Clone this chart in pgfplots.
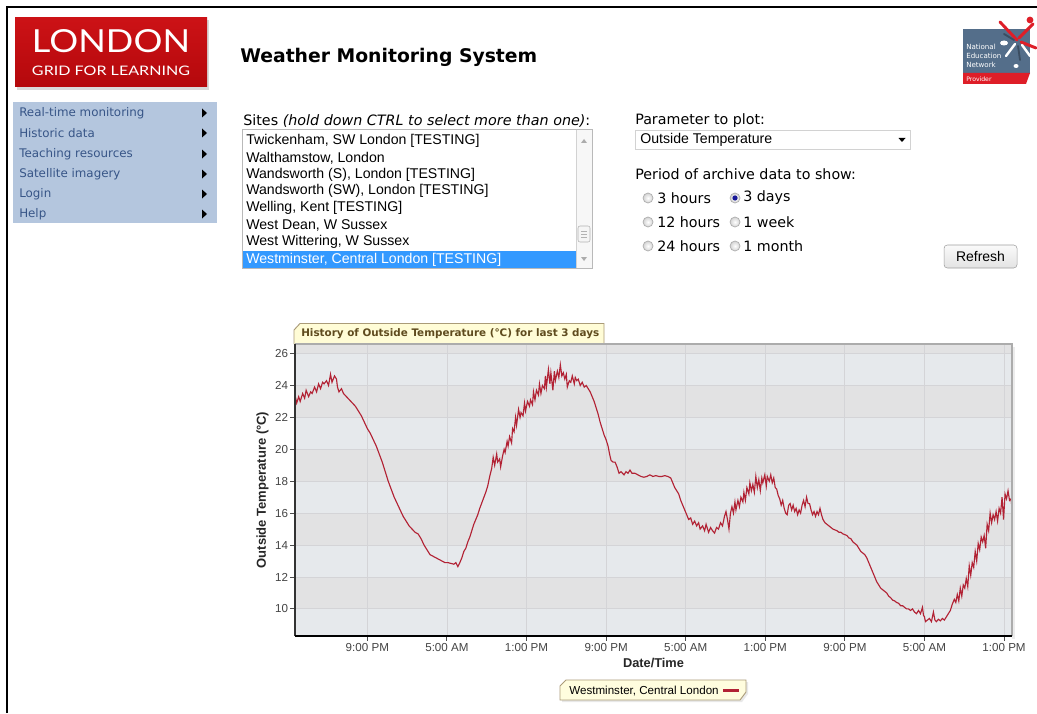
\documentclass[border=0pt]{standalone}
\usepackage{fontspec}
\setmainfont{Liberation Sans}
\newfontfamily\verd{DejaVu Sans}
\newfontfamily\lato{Lato}
\usepackage{graphicx}
\usepackage{pgfplots}
\usepackage{pgfplotstable}
\pgfplotsset{compat=1.18}
\newlength{\pxu}\setlength{\pxu}{0.75pt}
\newcommand{\fw}[2]{\resizebox{#1\pxu}{!}{#2}}
\newcommand{\fs}[1]{\fontsize{#1}{#1}\selectfont}
\definecolor{lgflred}{RGB}{204,18,22}
\definecolor{lgflred2}{RGB}{180,8,12}
\definecolor{menubg}{RGB}{180,198,222}
\definecolor{menutext}{RGB}{55,85,135}
\definecolor{selblue}{RGB}{51,153,255}
\definecolor{linered}{RGB}{178,34,52}
\definecolor{bandA}{RGB}{230,233,236}
\definecolor{bandB}{RGB}{226,226,227}
\definecolor{gridc}{RGB}{212,212,215}
\definecolor{tabfill}{RGB}{255,252,214}
\definecolor{tabdraw}{RGB}{170,155,120}
\definecolor{tabtext}{RGB}{95,75,30}
\definecolor{nenblue}{RGB}{84,110,138}
\definecolor{nenred}{RGB}{222,30,40}
\definecolor{ticktext}{RGB}{68,68,68}

\pgfplotstableread{
h t
13.73 23.4
13.9 22.9
14.1 23.3
14.25 23.0
14.5 23.5
14.7 23.2
14.85 23.7
15.1 23.3
15.3 23.6
15.45 23.5
15.7 23.9
15.9 23.6
16.1 24.1
16.3 23.8
16.5 24.2
16.65 24.1
16.9 24.3
17.1 24.0
17.3 24.7
17.45 24.2
17.7 24.6
17.9 24.4
18.0 23.9
18.15 23.6
18.4 23.8
18.6 23.5
18.9 23.3
19.2 23.1
19.5 22.9
19.8 22.7
20.1 22.4
20.4 22.1
20.7 21.7
21.0 21.3
21.3 21.0
21.6 20.6
21.9 20.2
22.2 19.7
22.5 19.2
22.8 18.6
23.1 18.0
23.4 17.5
23.7 17.0
24.0 16.6
24.3 16.2
24.6 15.8
24.9 15.5
25.2 15.2
25.5 15.0
25.8 14.8
26.1 14.7
26.4 14.4
26.7 14.0
27.0 13.7
27.3 13.4
27.6 13.3
27.9 13.2
28.2 13.1
28.5 13.0
28.8 12.9
29.1 12.9
29.4 12.85
29.7 12.8
29.9 12.9
30.1 12.65
30.3 12.9
30.5 13.2
30.7 13.6
30.9 13.8
31.1 14.2
31.3 14.5
31.5 14.9
31.7 15.3
31.9 15.6
32.1 15.9
32.3 16.3
32.6 16.8
32.9 17.3
33.1 17.7
33.3 18.3
33.5 18.8
33.65 19.5
33.8 19.0
34.0 19.7
34.1 19.2
34.3 19.4
34.4 18.9
34.6 19.6
34.75 20.0
34.85 19.8
35.05 20.5
35.15 20.2
35.3 20.8
35.5 20.4
35.6 21.3
35.75 21.1
35.9 22.0
36.0 21.5
36.2 22.5
36.35 22.0
36.45 22.3
36.65 22.1
36.8 22.9
36.9 22.4
37.1 23.0
37.3 22.7
37.4 23.1
37.6 22.8
37.7 23.6
37.85 23.1
38.0 23.7
38.2 23.4
38.3 24.1
38.45 23.5
38.6 24.0
38.8 23.8
38.9 24.6
39.0 23.9
39.2 25.0
39.35 24.1
39.45 24.8
39.65 23.7
39.8 24.9
39.9 24.3
40.1 24.9
40.25 24.5
40.4 25.3
40.55 24.6
40.7 24.8
40.85 24.4
41.0 24.7
41.1 23.9
41.3 24.3
41.45 24.2
41.6 24.6
41.8 24.1
41.9 24.5
42.05 24.3
42.2 24.4
42.4 24.0
42.6 24.2
42.8 23.9
43.0 24.0
43.2 23.8
43.4 23.6
43.6 23.3
43.8 23.0
44.0 22.6
44.2 22.2
44.4 21.7
44.6 21.3
44.8 20.9
45.0 20.6
45.2 20.2
45.35 19.7
45.5 19.3
45.7 19.2
45.9 19.2
46.1 18.9
46.3 18.5
46.5 18.6
46.8 18.4
47.0 18.6
47.2 18.5
47.4 18.7
47.6 18.5
47.9 18.5
48.2 18.4
48.5 18.3
48.8 18.25
49.1 18.3
49.4 18.4
49.7 18.3
50.0 18.35
50.3 18.3
50.6 18.3
50.9 18.35
51.2 18.3
51.5 18.2
51.7 17.9
51.9 17.6
52.1 17.4
52.3 17.2
52.5 16.8
52.7 16.5
52.9 16.2
53.1 15.9
53.3 15.6
53.5 15.7
53.7 15.3
53.9 15.5
54.1 15.2
54.3 15.4
54.45 15.0
54.7 15.2
54.9 14.9
55.05 15.3
55.3 14.8
55.5 15.1
55.7 14.9
55.9 14.75
56.1 15.1
56.3 15.0
56.5 15.4
56.7 15.2
56.9 15.8
57.05 16.1
57.2 15.6
57.35 15.0
57.5 16.0
57.65 16.4
57.8 16.0
57.95 16.7
58.05 16.2
58.25 16.8
58.4 16.4
58.55 17.0
58.75 16.7
58.85 17.3
59.0 16.8
59.15 17.6
59.35 17.2
59.45 17.9
59.6 17.4
59.75 17.8
59.9 17.3
60.05 18.3
60.2 17.6
60.35 18.1
60.5 17.4
60.65 18.2
60.75 17.9
60.95 18.4
61.1 17.7
61.2 18.3
61.4 18.0
61.55 18.4
61.7 17.9
61.85 18.2
62.0 17.6
62.15 17.5
62.3 17.1
62.45 16.9
62.6 16.5
62.75 16.8
62.9 16.3
63.05 16.0
63.2 15.9
63.35 16.5
63.5 16.6
63.65 16.2
63.8 16.5
63.95 16.1
64.1 16.3
64.25 15.9
64.4 16.2
64.55 16.0
64.7 16.5
64.85 16.8
65.0 16.4
65.15 17.0
65.3 16.6
65.45 16.6
65.6 16.2
65.75 15.9
65.9 16.1
66.05 15.8
66.2 16.1
66.35 15.9
66.5 16.3
66.65 15.9
66.8 15.6
67.0 15.4
67.2 15.3
67.4 15.2
67.6 15.1
67.8 15.0
68.0 14.95
68.2 14.9
68.4 14.8
68.6 14.8
68.8 14.7
69.0 14.65
69.2 14.6
69.4 14.45
69.6 14.4
69.8 14.2
70.0 14.1
70.2 14.0
70.4 13.8
70.6 13.6
70.8 13.5
71.0 13.4
71.2 13.2
71.4 12.9
71.6 12.6
71.8 12.3
72.0 12.0
72.2 11.7
72.4 11.5
72.6 11.3
72.8 11.2
73.0 11.1
73.2 11.0
73.4 10.8
73.6 10.7
73.8 10.55
74.0 10.5
74.2 10.4
74.4 10.35
74.6 10.2
74.8 10.2
75.0 10.1
75.2 10.0
75.4 10.0
75.6 9.9
75.8 10.0
76.0 9.8
76.2 9.7
76.4 9.9
76.6 9.7
76.8 10.1
76.9 9.6
77.0 9.5
77.1 9.2
77.3 9.3
77.5 9.4
77.7 9.2
77.9 9.8
78.05 9.3
78.2 9.2
78.4 9.35
78.6 9.25
78.8 9.4
79.0 9.3
79.2 9.5
79.4 9.7
79.6 9.9
79.8 10.3
80.0 10.6
80.15 10.4
80.3 10.9
80.45 10.5
80.6 11.3
80.75 10.8
80.9 11.5
81.05 11.3
81.2 11.9
81.35 11.4
81.5 12.7
81.65 12.1
81.8 12.9
81.95 12.6
82.1 13.6
82.25 13.0
82.4 14.1
82.55 13.7
82.7 14.5
82.85 14.2
83.0 14.6
83.15 13.8
83.3 15.3
83.45 14.9
83.6 16.0
83.75 15.4
83.9 15.9
84.05 15.6
84.2 16.1
84.35 15.5
84.5 16.3
84.65 16.0
84.8 17.0
84.95 15.6
85.1 17.2
85.25 16.9
85.4 17.4
85.55 16.8
85.7 16.9
85.8 16.3
}\tempdata

\begin{document}
\begin{tikzpicture}
\begin{scope}[x=0.75pt,y=-0.75pt]
\fill[white] (0,0) rectangle (1037,713);
\path[use as bounding box] (0,0) rectangle (1037,713);
% frame
\draw[black, line width=1.5pt] (7,713) -- (7,7) -- (1037,7);
% LGfL logo
\fill[gray!30] (17,20) rectangle (209,90);
\shade[top color=lgflred, bottom color=lgflred2] (15,18) rectangle (207,87);
\node[white, inner sep=0, anchor=south] at (111,53) {\resizebox{158\pxu}{23\pxu}{\lato LONDON}};
\node[white, inner sep=0, anchor=south] at (111,76) {\resizebox{158\pxu}{9.5\pxu}{\lato GRID FOR LEARNING}};
% title
\node[inner sep=0, anchor=west] at (240,57) {\fw{297}{\verd\bfseries Weather Monitoring System}};
% menu
\fill[menubg] (13,102) rectangle (217,223);
\foreach \yy/\tt in {113/Real-time monitoring,133/Historic data,154/Teaching resources,174/Satellite imagery,194/Login,214/Help}{
  \node[inner sep=0, anchor=west, text=menutext] at (19,\yy) {\fs{8.9}\verd \tt};
  \fill[black] (202,\yy-4.5) -- (207,\yy) -- (202,\yy+4.5) -- cycle;
}
% sites list
\node[inner sep=0, anchor=west] at (243,121) {\fw{347}{\verd Sites \textit{(hold down CTRL to select more than one)}:}};
\draw[gray!55, fill=white] (242,129) rectangle (592,268);
\fill[selblue] (243,251) rectangle (576,268);
\foreach \yy/\tt in {141/{Twickenham, SW London [TESTING]},158/{Walthamstow, London},175/{Wandsworth (S), London [TESTING]},191/{Wandsworth (SW), London [TESTING]},208/{Welling, Kent [TESTING]},225/{West Dean, W Sussex},242/{West Wittering, W Sussex}}{
  \node[inner sep=0, anchor=west] at (246,\yy) {\fs{10.6}\tt};
}
\node[inner sep=0, anchor=west, text=white] at (246,259.5) {\fs{10.6}Westminster, Central London [TESTING]};
\fill[gray!6] (576.5,130) rectangle (591.5,267.5);
\draw[gray!35] (576.5,130) -- (576.5,267.5);
\fill[gray!65] (581,143) -- (587,143) -- (584,139) -- cycle;
\fill[gray!65] (581,257) -- (587,257) -- (584,261) -- cycle;
\draw[gray!60, fill=gray!8, rounded corners=1.5] (578,226) rectangle (590,242);
\draw[gray!60] (581,231) -- (587,231) (581,234) -- (587,234) (581,237) -- (587,237);
% parameter
\node[inner sep=0, anchor=west] at (635,121) {\fs{10.7}\verd Parameter to plot:};
\draw[gray!35, fill=white] (635,130) rectangle (910,149);
\node[inner sep=0, anchor=west] at (640,140) {\fs{10.6}Outside Temperature};
\fill[black] (898.5,138) -- (905.5,138) -- (902,142) -- cycle;
\node[inner sep=0, anchor=west] at (635,174) {\fs{10.7}\verd Period of archive data to show:};
\foreach \yy/\ta/\tb in {198/3 hours/3 days,222/12 hours/1 week,246/24 hours/1 month}{
  \shade[inner color=white, outer color=gray!35] (648,\yy) circle (5);
  \draw[gray!65, line width=0.5pt] (648,\yy) circle (5);
  \shade[inner color=white, outer color=gray!35] (735,\yy) circle (5);
  \draw[gray!65, line width=0.5pt] (735,\yy) circle (5);
  \node[inner sep=0, anchor=west] at (657,\yy) {\fs{10.7}\verd \ta};
  \node[inner sep=0, anchor=west] at (743,\yy) {\fs{10.7}\verd \tb};
}
\fill[blue!55!black!90] (735,198) circle (2.6);
% refresh
\shade[top color=gray!4, bottom color=gray!22, draw=gray!75, rounded corners=2.5] (944,245) rectangle (1017,268);
\node[inner sep=0] at (980.5,256.5) {\fs{10.5}Refresh};
% NEN logo
\fill[nenblue] (963,29) -- (1030,29) -- (1030,74) -- (963,74) -- cycle;
\fill[nenred] (963,73) -- (1030,73) -- (1026,84) -- (963,84) -- cycle;
\node[white, inner sep=0, anchor=west] at (966,47) {\fs{5.3}\verd National};
\node[white, inner sep=0, anchor=west] at (966,56) {\fs{5.3}\verd Education};
\node[white, inner sep=0, anchor=west] at (966,65) {\fs{5.3}\verd Network};
\node[white, inner sep=0, anchor=west] at (966,79) {\fs{4.6}\verd Provider};
\draw[nenred, line width=2.2pt, line cap=round] (1017,40) -- (1000,22) (1019,38) -- (1033,24) (1021,42) -- (1036,48);
\draw[white, line width=1.8pt, line cap=round] (1015,44) -- (1006,56) (1022,45) -- (1030,56);
\draw[nenblue!70!black, line width=1.4pt, line cap=round] (1018,46) -- (1020,60) (1014,40) -- (1004,34);
\fill[nenred] (1030,20) circle (3.4);
\fill[white] (1004,43) ellipse (4 and 2.5);
\fill[white] (1016,66) ellipse (2.5 and 2);
% chart title tab
\filldraw[fill=tabfill, draw=tabdraw, line width=0.7pt] (294,344) -- (294,330) -- (300,323.5) -- (604,323.5) -- (604,344);
\node[inner sep=0, anchor=west, text=tabtext] at (301,334) {\fw{298}{\verd\bfseries History of Outside Temperature (°C) for last 3 days}};
% legend shape
\fill[gray!18] (568,682) -- (748,682) -- (748,694) -- (742,702) -- (562,702) -- (562,688) -- cycle;
\filldraw[fill=tabfill!80!white, draw=tabdraw, line width=0.7pt] (566,680) -- (746,680) -- (746,692) -- (740,700) -- (560,700) -- (560,686) -- cycle;
% plot shadow
\fill[gray!15] (1012,347) rectangle (1015,639);
\end{scope}

\begin{axis}[
  at={(221.25pt,-258pt)}, anchor=north west,
  scale only axis, width=537.75pt, height=219pt,
  xmin=13.73, xmax=85.8, ymin=8.3, ymax=26.6,
  xtick={21,29,37,45,53,61,69,77,85},
  xticklabels={9:00 PM,5:00 AM,1:00 PM,9:00 PM,5:00 AM,1:00 PM,9:00 PM,5:00 AM,1:00 PM},
  ytick={10,12,14,16,18,20,22,24,26},
  tick pos=left, tick align=outside, major tick length=3.5pt,
  tick style={black!70, line width=0.7pt},
  /pgf/number format/assume math mode=true,
  ticklabel style={font=\fs{8.7}, text=ticktext},
  yticklabel style={inner sep=1.5pt},
  xticklabel style={inner sep=2pt},
  axis line style={draw=none},
  clip mode=individual,
  xlabel={Date/Time},
  ylabel={Outside Temperature (°C)},
  xlabel style={font=\fs{9.6}\bfseries, text=black!85, at={(axis description cs:0.5,-0.0907)}, anchor=center},
  ylabel style={font=\fs{9.75}\bfseries, text=black!85, at={(axis description cs:-0.0453,0.5)}, anchor=center},
  legend style={at={(axis description cs:0.5,-0.188)}, anchor=center, draw=none, fill=none, font=\fs{8.7}, inner sep=1pt},
  legend plot pos=right,
  legend cell align=left,
]
\fill[bandB] (axis cs:13.73,26) rectangle (axis cs:85.8,26.6);
\fill[bandA] (axis cs:13.73,24) rectangle (axis cs:85.8,26);
\fill[bandB] (axis cs:13.73,22) rectangle (axis cs:85.8,24);
\fill[bandA] (axis cs:13.73,20) rectangle (axis cs:85.8,22);
\fill[bandB] (axis cs:13.73,18) rectangle (axis cs:85.8,20);
\fill[bandA] (axis cs:13.73,16) rectangle (axis cs:85.8,18);
\fill[bandB] (axis cs:13.73,14) rectangle (axis cs:85.8,16);
\fill[bandA] (axis cs:13.73,12) rectangle (axis cs:85.8,14);
\fill[bandB] (axis cs:13.73,10) rectangle (axis cs:85.8,12);
\fill[bandA] (axis cs:13.73,8.3) rectangle (axis cs:85.8,10);
\pgfplotsinvokeforeach{21,29,37,45,53,61,69,77,85}{
  \draw[gridc, line width=0.6pt] (axis cs:#1,8.3) -- (axis cs:#1,26.6);
}
\pgfplotsinvokeforeach{10,12,14,16,18,20,22,24,26}{
  \draw[gridc, line width=0.6pt] (axis cs:13.73,#1) -- (axis cs:85.8,#1);
}
\addplot[linered, line width=0.85pt, no marks,
  legend image code/.code={\draw[linered, line width=2.3pt] (0cm,0cm) -- (0.42cm,0cm);}]
  table[x=h, y=t] {\tempdata};
\addlegendentry{Westminster, Central London}
\draw[gray!65, line width=1.3pt] (rel axis cs:0,1) -- (rel axis cs:1,1) -- (rel axis cs:1,0);
\draw[black!80, line width=0.8pt] (rel axis cs:0,0) -- (rel axis cs:0,1);
\draw[black, line width=1.3pt] (rel axis cs:0,0) -- (rel axis cs:1,0);
\end{axis}
\end{tikzpicture}
\end{document}
